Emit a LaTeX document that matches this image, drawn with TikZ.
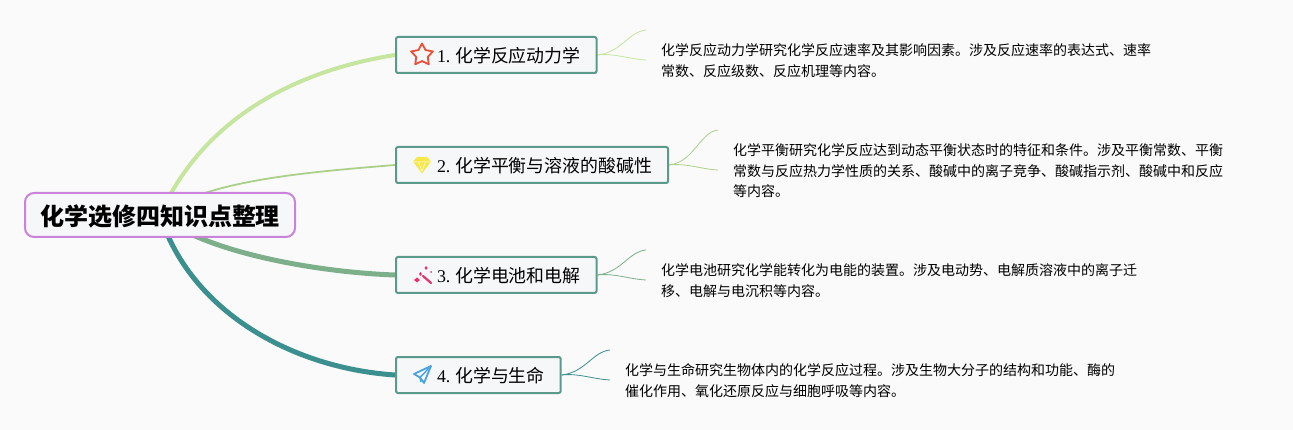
\documentclass[tikz,border=0pt]{standalone}
\usepackage{fontspec}
\usepackage{xcolor}
\setmainfont{Liberation Serif}
\newfontfamily\cjk{Noto Sans CJK SC}
\usetikzlibrary{shapes.geometric,backgrounds,positioning}
\definecolor{pagebg}{HTML}{FAFAFA}
\definecolor{nodefill}{HTML}{F6F7F8}
\definecolor{rootline}{HTML}{C983DA}
\definecolor{nodeline}{HTML}{5B9A8B}
\definecolor{linea}{HTML}{C6E59F}
\definecolor{lineb}{HTML}{ABD08A}
\definecolor{linec}{HTML}{7DB08A}
\definecolor{lined}{HTML}{3B8F8F}
\definecolor{iconstar}{HTML}{E8503A}
\definecolor{icongem}{HTML}{F7E84A}
\definecolor{iconwand}{HTML}{E8336D}
\definecolor{iconplane}{HTML}{4AA3DF}
\newcommand{\gap}{\hspace*{25pt}}
\newcommand{\sep}{\hspace{4.8pt}}

\begin{document}
\begin{tikzpicture}[x=1pt,y=-1pt,
              rootbox/.style={draw=rootline, line width=2pt, fill=nodefill, rounded corners=9pt,
                minimum height=44pt, minimum width=270pt, inner sep=0pt, text height=22pt, text depth=0pt,
                font=\cjk\bfseries\fontsize{24}{28}\selectfont},
              topicbox/.style={draw=nodeline, line width=2pt, fill=nodefill, rounded corners=2pt,
                anchor=west, minimum height=36pt, inner xsep=16pt, inner ysep=0pt, text height=16pt, text depth=0.4pt,
                font=\fontsize{17.9}{22}\selectfont},
              note/.style={anchor=north west, inner sep=0pt, align=left, font=\cjk\fontsize{14}{20.7}\selectfont},
              fork/.style={line width=0.8pt},
             ]

\useasboundingbox (0,0) rectangle (1293,430);

\node[rootbox] (root) at (160,215) {化学选修四知识点整理};
\node[topicbox] (n1) at (395,55) {\gap 1.\sep{\cjk 化学反应动力学}};
\node[topicbox] (n2) at (395,165) {\gap 2.\sep{\cjk 化学平衡与溶液的酸碱性}};
\node[topicbox] (n3) at (395,275) {\gap 3.\sep{\cjk 化学电池和电解}};
\node[topicbox] (n4) at (395,375) {\gap 4.\sep{\cjk 化学与生命}};

\node[note] (t1) at (661,43.5) {化学反应动力学研究化学反应速率及其影响因素。涉及反应速率的表达式、速率\\常数、反应级数、反应机理等内容。};
\node[note] (t2) at (733,143.5) {化学平衡研究化学反应达到动态平衡状态时的特征和条件。涉及平衡常数、平衡\\常数与反应热力学性质的关系、酸碱中的离子竞争、酸碱指示剂、酸碱中和反应\\等内容。};
\node[note] (t3) at (661,263.5) {化学电池研究化学能转化为电能的装置。涉及电动势、电解质溶液中的离子迁\\移、电解与电沉积等内容。};
\node[note] (t4) at (625,363.5) {化学与生命研究生物体内的化学反应过程。涉及生物大分子的结构和功能、酶的\\催化作用、氧化还原反应与细胞呼吸等内容。};

\coordinate (f1a) at (646,30);
\coordinate (f1b) at (646,60);
\coordinate (f2a) at (718,130);
\coordinate (f2b) at (718,170);
\coordinate (f3a) at (646,250);
\coordinate (f3b) at (646,280);
\coordinate (f4a) at (610,350);
\coordinate (f4b) at (610,380);

% icons
\node[star, star points=5, star point ratio=1.9, draw=iconstar, line width=1.8pt, line join=round,
  minimum size=23pt, inner sep=0pt] (star1) at ([xshift=27pt]n1.west) {};
\begin{scope}[shift={([xshift=27pt]n2.west)}]
\fill[icongem] (-9,-3.5) -- (-5,-8) -- (5,-8) -- (9,-3.5) -- (0,8.5) -- cycle;
\draw[white, line width=0.5pt] (-9,-3) -- (9,-3) (-3.5,-3) -- (0,6) -- (3.5,-3);
\end{scope}
\begin{scope}[shift={([xshift=27pt]n3.west)}]
\draw[iconwand, line width=2.2pt, line cap=round] (1,1) -- (9,8);
\fill[iconwand] (-8,5) -- (-5,2.5) -- (-2,5) -- (-5,7.5) -- cycle;
\fill[iconwand] (-3,-1) -- (-1.5,-3) -- (0,-1) -- (-1.5,1) -- cycle;
\fill[iconwand] (4,-9) -- (5.5,-7) -- (4,-5) -- (2.5,-7) -- cycle;
\fill[iconwand] (9,-3) circle (1pt);
\end{scope}
\begin{scope}[shift={([xshift=27pt]n4.west)}]
\draw[iconplane, line width=1.8pt, line join=round] (9,-9) -- (-8,-1) -- (-2,2.5) -- (2,8) -- cycle;
\draw[iconplane, line width=1.4pt] (9,-9) -- (-2,2.5) -- (-1,7);
\end{scope}

\begin{scope}[on background layer]
\fill[pagebg] (0,0) rectangle (1293,430);
\draw[linea, line width=4pt] (root.center) .. controls (205,115) and (300,70) .. (n1.west);
\draw[lineb, line width=1.8pt] (root.center) .. controls (205,180) and (310,172) .. (n2.west);
\draw[linec, line width=5pt] (root.center) .. controls (200,250) and (310,272) .. (n3.west);
\draw[lined, line width=5pt] (root.center) .. controls (190,310) and (290,368) .. (n4.west);
\draw[linea, fork] (n1.east) .. controls (622,52) and (628,32) .. (f1a);
\draw[linea, fork] (n1.east) .. controls (615,53) and (628,59) .. (f1b);
\draw[lineb, fork] (n2.east) .. controls (694,162) and (700,132) .. (f2a);
\draw[lineb, fork] (n2.east) .. controls (687,163) and (700,169) .. (f2b);
\draw[linec, fork] (n3.east) .. controls (622,272) and (628,252) .. (f3a);
\draw[linec, fork] (n3.east) .. controls (615,273) and (628,279) .. (f3b);
\draw[lined, fork] (n4.east) .. controls (586,372) and (592,352) .. (f4a);
\draw[lined, fork] (n4.east) .. controls (579,373) and (592,379) .. (f4b);
\end{scope}
\end{tikzpicture}
\end{document}
